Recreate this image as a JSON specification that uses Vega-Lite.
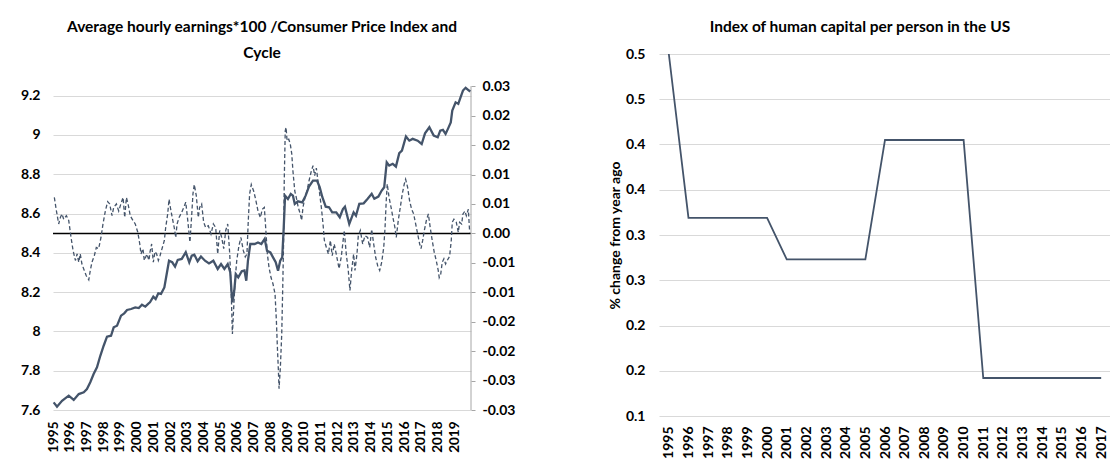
{
  "$schema": "https://vega.github.io/schema/vega-lite/v6.json",
  "background": "white",
  "padding": {"left": 20, "top": 19, "right": 0, "bottom": 0},
  "spacing": 93,
  "config": {
    "font": "Lato",
    "view": {"stroke": null},
    "axis": {
      "labelFont": "Lato", "labelFontWeight": "bold", "labelColor": "#000000", "labelFontSize": 14,
      "titleFont": "Lato", "titleFontWeight": "bold", "titleColor": "#000000", "titleFontSize": 14,
      "gridColor": "#d9d9d9", "gridWidth": 1, "labelOverlap": false
    },
    "axisX": {"labelOverlap": false, "labelBound": false},
    "title": {"font": "Lato", "fontWeight": "bold", "fontSize": 15.5, "color": "#000000", "anchor": "middle"}
  },
  "datasets": {
    "wage": [
      {"t": 1995.04, "v": 7.639}, {"t": 1995.24, "v": 7.617}, {"t": 1995.54, "v": 7.647}, {"t": 1995.94, "v": 7.673},
      {"t": 1996.24, "v": 7.651}, {"t": 1996.54, "v": 7.681}, {"t": 1996.84, "v": 7.690}, {"t": 1997.03, "v": 7.707},
      {"t": 1997.23, "v": 7.741}, {"t": 1997.43, "v": 7.783}, {"t": 1997.63, "v": 7.817}, {"t": 1997.83, "v": 7.876},
      {"t": 1998.03, "v": 7.927}, {"t": 1998.23, "v": 7.973}, {"t": 1998.47, "v": 7.978}, {"t": 1998.63, "v": 8.021},
      {"t": 1998.83, "v": 8.029}, {"t": 1999.07, "v": 8.080}, {"t": 1999.26, "v": 8.092}, {"t": 1999.43, "v": 8.109},
      {"t": 1999.67, "v": 8.114}, {"t": 1999.92, "v": 8.122}, {"t": 2000.13, "v": 8.119}, {"t": 2000.32, "v": 8.136},
      {"t": 2000.52, "v": 8.126}, {"t": 2000.72, "v": 8.143}, {"t": 2000.80, "v": 8.148}, {"t": 2001.00, "v": 8.177},
      {"t": 2001.14, "v": 8.165}, {"t": 2001.30, "v": 8.194}, {"t": 2001.46, "v": 8.191}, {"t": 2001.66, "v": 8.224},
      {"t": 2001.80, "v": 8.292}, {"t": 2001.94, "v": 8.360}, {"t": 2002.13, "v": 8.352}, {"t": 2002.30, "v": 8.330},
      {"t": 2002.46, "v": 8.364}, {"t": 2002.70, "v": 8.369}, {"t": 2002.94, "v": 8.403}, {"t": 2003.15, "v": 8.352},
      {"t": 2003.30, "v": 8.386}, {"t": 2003.45, "v": 8.391}, {"t": 2003.65, "v": 8.357}, {"t": 2003.85, "v": 8.381},
      {"t": 2004.09, "v": 8.360}, {"t": 2004.33, "v": 8.346}, {"t": 2004.59, "v": 8.360}, {"t": 2004.85, "v": 8.318},
      {"t": 2005.05, "v": 8.343}, {"t": 2005.25, "v": 8.318}, {"t": 2005.45, "v": 8.343}, {"t": 2005.60, "v": 8.301},
      {"t": 2005.72, "v": 8.148}, {"t": 2005.84, "v": 8.207}, {"t": 2005.93, "v": 8.292}, {"t": 2006.08, "v": 8.275},
      {"t": 2006.29, "v": 8.306}, {"t": 2006.45, "v": 8.310}, {"t": 2006.56, "v": 8.258}, {"t": 2006.66, "v": 8.360},
      {"t": 2006.80, "v": 8.445}, {"t": 2007.06, "v": 8.445}, {"t": 2007.26, "v": 8.453}, {"t": 2007.46, "v": 8.445},
      {"t": 2007.66, "v": 8.471}, {"t": 2007.80, "v": 8.411}, {"t": 2008.00, "v": 8.402}, {"t": 2008.16, "v": 8.377},
      {"t": 2008.32, "v": 8.352}, {"t": 2008.46, "v": 8.309}, {"t": 2008.59, "v": 8.360}, {"t": 2008.71, "v": 8.377},
      {"t": 2008.80, "v": 8.530}, {"t": 2008.88, "v": 8.691}, {"t": 2009.05, "v": 8.674}, {"t": 2009.22, "v": 8.700},
      {"t": 2009.35, "v": 8.691}, {"t": 2009.46, "v": 8.649}, {"t": 2009.65, "v": 8.662}, {"t": 2009.91, "v": 8.657},
      {"t": 2010.11, "v": 8.691}, {"t": 2010.31, "v": 8.737}, {"t": 2010.55, "v": 8.768}, {"t": 2010.79, "v": 8.768},
      {"t": 2010.95, "v": 8.734}, {"t": 2011.11, "v": 8.683}, {"t": 2011.31, "v": 8.635}, {"t": 2011.51, "v": 8.632},
      {"t": 2011.70, "v": 8.606}, {"t": 2011.94, "v": 8.606}, {"t": 2012.15, "v": 8.581}, {"t": 2012.34, "v": 8.623},
      {"t": 2012.46, "v": 8.635}, {"t": 2012.72, "v": 8.547}, {"t": 2012.98, "v": 8.606}, {"t": 2013.12, "v": 8.589},
      {"t": 2013.32, "v": 8.649}, {"t": 2013.58, "v": 8.652}, {"t": 2013.82, "v": 8.675}, {"t": 2014.06, "v": 8.700},
      {"t": 2014.22, "v": 8.675}, {"t": 2014.46, "v": 8.686}, {"t": 2014.66, "v": 8.717}, {"t": 2014.81, "v": 8.734},
      {"t": 2014.96, "v": 8.861}, {"t": 2015.11, "v": 8.844}, {"t": 2015.32, "v": 8.853}, {"t": 2015.51, "v": 8.839},
      {"t": 2015.71, "v": 8.907}, {"t": 2015.87, "v": 8.920}, {"t": 2016.11, "v": 8.992}, {"t": 2016.31, "v": 8.971},
      {"t": 2016.51, "v": 8.980}, {"t": 2016.81, "v": 8.971}, {"t": 2017.05, "v": 8.954}, {"t": 2017.25, "v": 9.008},
      {"t": 2017.51, "v": 9.039}, {"t": 2017.77, "v": 8.997}, {"t": 2018.01, "v": 8.988}, {"t": 2018.16, "v": 9.022},
      {"t": 2018.32, "v": 9.026}, {"t": 2018.48, "v": 9.005}, {"t": 2018.62, "v": 9.031}, {"t": 2018.79, "v": 9.064},
      {"t": 2018.88, "v": 9.124}, {"t": 2019.08, "v": 9.166}, {"t": 2019.24, "v": 9.158}, {"t": 2019.38, "v": 9.192},
      {"t": 2019.52, "v": 9.226}, {"t": 2019.68, "v": 9.240}, {"t": 2019.88, "v": 9.226}, {"t": 2019.96, "v": 9.221}
    ],
    "cycle": [
      {"t": 1995.08, "c": 0.0061}, {"t": 1995.20, "c": 0.0039}, {"t": 1995.34, "c": 0.0016}, {"t": 1995.44, "c": 0.0027},
      {"t": 1995.54, "c": 0.0033}, {"t": 1995.64, "c": 0.0024}, {"t": 1995.80, "c": 0.0030}, {"t": 1995.94, "c": 0.0022},
      {"t": 1996.08, "c": -0.0007}, {"t": 1996.20, "c": -0.0029}, {"t": 1996.34, "c": -0.0046}, {"t": 1996.44, "c": -0.0035},
      {"t": 1996.54, "c": -0.0049}, {"t": 1996.63, "c": -0.0035}, {"t": 1996.73, "c": -0.0052}, {"t": 1996.87, "c": -0.0063},
      {"t": 1996.99, "c": -0.0072}, {"t": 1997.14, "c": -0.0079}, {"t": 1997.23, "c": -0.0063}, {"t": 1997.33, "c": -0.0049},
      {"t": 1997.47, "c": -0.0038}, {"t": 1997.59, "c": -0.0024}, {"t": 1997.73, "c": -0.0026}, {"t": 1997.87, "c": -0.0007},
      {"t": 1997.99, "c": 0.0016}, {"t": 1998.13, "c": 0.0038}, {"t": 1998.27, "c": 0.0054}, {"t": 1998.39, "c": 0.0050},
      {"t": 1998.53, "c": 0.0030}, {"t": 1998.63, "c": 0.0044}, {"t": 1998.79, "c": 0.0050}, {"t": 1998.93, "c": 0.0038},
      {"t": 1999.07, "c": 0.0051}, {"t": 1999.19, "c": 0.0061}, {"t": 1999.29, "c": 0.0027}, {"t": 1999.39, "c": 0.0061},
      {"t": 1999.49, "c": 0.0050}, {"t": 1999.62, "c": 0.0030}, {"t": 1999.78, "c": 0.0022}, {"t": 1999.92, "c": 0.0016},
      {"t": 2000.07, "c": 0.0002}, {"t": 2000.19, "c": -0.0018}, {"t": 2000.26, "c": -0.0035}, {"t": 2000.38, "c": -0.0026},
      {"t": 2000.46, "c": -0.0046}, {"t": 2000.62, "c": -0.0035}, {"t": 2000.74, "c": -0.0046}, {"t": 2000.80, "c": -0.0032},
      {"t": 2000.90, "c": -0.0018}, {"t": 2001.00, "c": -0.0049}, {"t": 2001.10, "c": -0.0031}, {"t": 2001.20, "c": -0.0035},
      {"t": 2001.30, "c": -0.0046}, {"t": 2001.40, "c": -0.0038}, {"t": 2001.54, "c": -0.0024}, {"t": 2001.66, "c": -0.0012},
      {"t": 2001.74, "c": 0.0010}, {"t": 2001.86, "c": 0.0033}, {"t": 2001.94, "c": 0.0058}, {"t": 2002.02, "c": 0.0044},
      {"t": 2002.13, "c": 0.0027}, {"t": 2002.25, "c": 0.0010}, {"t": 2002.34, "c": -0.0007}, {"t": 2002.42, "c": 0.0016},
      {"t": 2002.54, "c": 0.0027}, {"t": 2002.70, "c": 0.0036}, {"t": 2002.82, "c": 0.0044}, {"t": 2002.94, "c": 0.0053},
      {"t": 2003.06, "c": 0.0022}, {"t": 2003.19, "c": -0.0015}, {"t": 2003.30, "c": 0.0033}, {"t": 2003.37, "c": 0.0067},
      {"t": 2003.45, "c": 0.0083}, {"t": 2003.57, "c": 0.0064}, {"t": 2003.69, "c": 0.0027}, {"t": 2003.77, "c": 0.0044},
      {"t": 2003.89, "c": 0.0050}, {"t": 2004.01, "c": 0.0019}, {"t": 2004.13, "c": 0.0010}, {"t": 2004.29, "c": 0.0013},
      {"t": 2004.45, "c": -0.0001}, {"t": 2004.59, "c": 0.0016}, {"t": 2004.73, "c": 0.0010}, {"t": 2004.85, "c": -0.0035},
      {"t": 2004.97, "c": 0.0005}, {"t": 2005.09, "c": -0.0007}, {"t": 2005.21, "c": -0.0026}, {"t": 2005.33, "c": 0.0005},
      {"t": 2005.45, "c": 0.0016}, {"t": 2005.57, "c": -0.0035}, {"t": 2005.65, "c": -0.0092}, {"t": 2005.73, "c": -0.0171},
      {"t": 2005.81, "c": -0.0125}, {"t": 2005.89, "c": -0.0080}, {"t": 2005.99, "c": -0.0046}, {"t": 2006.12, "c": -0.0021},
      {"t": 2006.24, "c": -0.0007}, {"t": 2006.38, "c": -0.0029}, {"t": 2006.50, "c": -0.0040}, {"t": 2006.60, "c": -0.0035},
      {"t": 2006.68, "c": 0.0022}, {"t": 2006.76, "c": 0.0067}, {"t": 2006.86, "c": 0.0083}, {"t": 2007.00, "c": 0.0072},
      {"t": 2007.12, "c": 0.0058}, {"t": 2007.26, "c": 0.0038}, {"t": 2007.40, "c": 0.0027}, {"t": 2007.52, "c": 0.0041},
      {"t": 2007.64, "c": 0.0044}, {"t": 2007.72, "c": 0.0010}, {"t": 2007.82, "c": -0.0035}, {"t": 2007.92, "c": -0.0058},
      {"t": 2008.04, "c": -0.0075}, {"t": 2008.16, "c": -0.0086}, {"t": 2008.28, "c": -0.0103}, {"t": 2008.36, "c": -0.0148},
      {"t": 2008.42, "c": -0.0193}, {"t": 2008.48, "c": -0.0233}, {"t": 2008.52, "c": -0.0264}, {"t": 2008.60, "c": -0.0227},
      {"t": 2008.68, "c": -0.0171}, {"t": 2008.74, "c": -0.0092}, {"t": 2008.80, "c": -0.0001}, {"t": 2008.83, "c": 0.0089},
      {"t": 2008.89, "c": 0.0174}, {"t": 2008.94, "c": 0.0180}, {"t": 2009.00, "c": 0.0157}, {"t": 2009.10, "c": 0.0160},
      {"t": 2009.19, "c": 0.0152}, {"t": 2009.28, "c": 0.0135}, {"t": 2009.35, "c": 0.0106}, {"t": 2009.46, "c": 0.0072},
      {"t": 2009.55, "c": 0.0061}, {"t": 2009.67, "c": 0.0044}, {"t": 2009.79, "c": 0.0033}, {"t": 2009.87, "c": 0.0022},
      {"t": 2009.95, "c": 0.0044}, {"t": 2010.07, "c": 0.0061}, {"t": 2010.19, "c": 0.0072}, {"t": 2010.31, "c": 0.0089},
      {"t": 2010.45, "c": 0.0106}, {"t": 2010.55, "c": 0.0115}, {"t": 2010.65, "c": 0.0098}, {"t": 2010.75, "c": 0.0111},
      {"t": 2010.85, "c": 0.0089}, {"t": 2010.95, "c": 0.0067}, {"t": 2011.05, "c": 0.0044}, {"t": 2011.15, "c": 0.0016},
      {"t": 2011.23, "c": -0.0012}, {"t": 2011.35, "c": -0.0024}, {"t": 2011.47, "c": -0.0035}, {"t": 2011.59, "c": -0.0012},
      {"t": 2011.70, "c": -0.0038}, {"t": 2011.82, "c": -0.0018}, {"t": 2011.94, "c": -0.0035}, {"t": 2012.11, "c": -0.0060},
      {"t": 2012.24, "c": -0.0040}, {"t": 2012.42, "c": 0.0005}, {"t": 2012.54, "c": -0.0035}, {"t": 2012.66, "c": -0.0063},
      {"t": 2012.76, "c": -0.0097}, {"t": 2012.86, "c": -0.0063}, {"t": 2012.98, "c": -0.0035}, {"t": 2013.06, "c": -0.0063},
      {"t": 2013.18, "c": -0.0035}, {"t": 2013.26, "c": -0.0004}, {"t": 2013.38, "c": 0.0005}, {"t": 2013.52, "c": -0.0018},
      {"t": 2013.66, "c": -0.0004}, {"t": 2013.82, "c": -0.0007}, {"t": 2013.94, "c": -0.0024}, {"t": 2014.06, "c": 0.0007},
      {"t": 2014.18, "c": -0.0018}, {"t": 2014.30, "c": -0.0041}, {"t": 2014.42, "c": -0.0055}, {"t": 2014.54, "c": -0.0063},
      {"t": 2014.66, "c": -0.0049}, {"t": 2014.78, "c": -0.0024}, {"t": 2014.86, "c": 0.0010}, {"t": 2014.93, "c": 0.0055},
      {"t": 2014.99, "c": 0.0084}, {"t": 2015.10, "c": 0.0061}, {"t": 2015.22, "c": 0.0044}, {"t": 2015.33, "c": 0.0027},
      {"t": 2015.45, "c": 0.0010}, {"t": 2015.53, "c": -0.0007}, {"t": 2015.65, "c": 0.0022}, {"t": 2015.77, "c": 0.0044},
      {"t": 2015.89, "c": 0.0067}, {"t": 2016.01, "c": 0.0084}, {"t": 2016.09, "c": 0.0092}, {"t": 2016.21, "c": 0.0078},
      {"t": 2016.33, "c": 0.0055}, {"t": 2016.45, "c": 0.0041}, {"t": 2016.57, "c": 0.0033}, {"t": 2016.69, "c": 0.0016},
      {"t": 2016.81, "c": -0.0001}, {"t": 2016.93, "c": -0.0018}, {"t": 2017.01, "c": -0.0026}, {"t": 2017.11, "c": -0.0012},
      {"t": 2017.21, "c": 0.0005}, {"t": 2017.33, "c": 0.0022}, {"t": 2017.45, "c": 0.0033}, {"t": 2017.56, "c": 0.0010},
      {"t": 2017.68, "c": -0.0012}, {"t": 2017.80, "c": -0.0032}, {"t": 2017.92, "c": -0.0046}, {"t": 2018.04, "c": -0.0063},
      {"t": 2018.10, "c": -0.0075}, {"t": 2018.19, "c": -0.0069}, {"t": 2018.28, "c": -0.0049}, {"t": 2018.38, "c": -0.0043},
      {"t": 2018.48, "c": -0.0052}, {"t": 2018.58, "c": -0.0046}, {"t": 2018.72, "c": -0.0039}, {"t": 2018.82, "c": -0.0012},
      {"t": 2018.88, "c": 0.0019}, {"t": 2018.98, "c": 0.0024}, {"t": 2019.12, "c": 0.0019}, {"t": 2019.24, "c": 0.0002},
      {"t": 2019.32, "c": 0.0019}, {"t": 2019.44, "c": 0.0016}, {"t": 2019.52, "c": 0.0033}, {"t": 2019.64, "c": 0.0038},
      {"t": 2019.72, "c": 0.0030}, {"t": 2019.84, "c": 0.0041}, {"t": 2019.92, "c": 0.0002}
    ],
    "human": [
      {"year": 1995, "pct": 0.5}, {"year": 1996, "pct": 0.319}, {"year": 1997, "pct": 0.319}, {"year": 1998, "pct": 0.319},
      {"year": 1999, "pct": 0.319}, {"year": 2000, "pct": 0.319}, {"year": 2001, "pct": 0.273}, {"year": 2002, "pct": 0.273},
      {"year": 2003, "pct": 0.273}, {"year": 2004, "pct": 0.273}, {"year": 2005, "pct": 0.273}, {"year": 2006, "pct": 0.405},
      {"year": 2007, "pct": 0.405}, {"year": 2008, "pct": 0.405}, {"year": 2009, "pct": 0.405}, {"year": 2010, "pct": 0.405},
      {"year": 2011, "pct": 0.142}, {"year": 2012, "pct": 0.142}, {"year": 2013, "pct": 0.142}, {"year": 2014, "pct": 0.142},
      {"year": 2015, "pct": 0.142}, {"year": 2016, "pct": 0.142}, {"year": 2017, "pct": 0.142}
    ],
    "rightAxisLine": [{"t": 2020, "lo": -0.03, "hi": 0.025}]
  },
  "hconcat": [
    {
      "width": 418,
      "height": 356,
      "title": {"text": ["Average hourly earnings*100 /Consumer Price Index and", "Cycle"], "lineHeight": 26, "offset": -7, "frame": "group"},
      "layer": [
        {
          "data": {"values": [{"z": 0}]},
          "mark": {"type": "rule", "color": "#000000", "strokeWidth": 1.5},
          "encoding": {
            "y": {"field": "z", "type": "quantitative", "scale": {"domain": [-0.03, 0.03047], "nice": false, "zero": false}, "axis": null}
          }
        },
        {
          "data": {"name": "rightAxisLine"},
          "mark": {"type": "rule", "color": "#a6a6a6", "strokeWidth": 1},
          "encoding": {
            "x": {"field": "t", "type": "quantitative", "scale": {"domain": [1995, 2020], "nice": false, "zero": false},
              "axis": {"values": [1995, 1996, 1997, 1998, 1999, 2000, 2001, 2002, 2003, 2004, 2005, 2006, 2007, 2008, 2009, 2010, 2011, 2012, 2013, 2014, 2015, 2016, 2017, 2018, 2019],
                "format": "d", "labelAngle": 270, "labelFontSize": 13.5, "labelPadding": 11, "grid": false, "domain": false, "ticks": false, "title": null, "labelOverlap": false}},
            "y": {"field": "lo", "type": "quantitative", "scale": {"domain": [-0.03, 0.03047], "nice": false, "zero": false}, "axis": null},
            "y2": {"field": "hi"}
          }
        },
        {
          "data": {"name": "cycle"},
          "mark": {"type": "line", "color": "#44546A", "strokeWidth": 1.3, "strokeDash": [4, 2.5]},
          "encoding": {
            "x": {"field": "t", "type": "quantitative", "scale": {"domain": [1995, 2020], "nice": false, "zero": false},
              "axis": {"values": [1995, 1996, 1997, 1998, 1999, 2000, 2001, 2002, 2003, 2004, 2005, 2006, 2007, 2008, 2009, 2010, 2011, 2012, 2013, 2014, 2015, 2016, 2017, 2018, 2019],
                "format": "d", "labelAngle": 270, "labelFontSize": 13.5, "labelPadding": 11, "grid": false, "domain": false, "ticks": false, "title": null, "labelOverlap": false}},
            "y": {"field": "c", "type": "quantitative", "scale": {"domain": [-0.03, 0.03047], "nice": false, "zero": false},
              "axis": {"orient": "right", "title": null, "grid": false, "values": [-0.03, -0.025, -0.02, -0.015, -0.01, -0.005, 0, 0.005, 0.01, 0.015, 0.02, 0.025],
                "labelExpr": "datum.value < -1e-9 ? '-' + format(round(abs(datum.value) * 100 + 1e-6) / 100, '.2f') : format(round(datum.value * 100 + 1e-6) / 100, '.2f')",
                "domain": false, "ticks": true, "tickColor": "#a6a6a6", "tickSize": 4, "labelPadding": 7, "labelOverlap": false}}
          }
        },
        {
          "data": {"name": "wage"},
          "mark": {"type": "line", "color": "#44546A", "strokeWidth": 2.3},
          "encoding": {
            "x": {"field": "t", "type": "quantitative", "scale": {"domain": [1995, 2020], "nice": false, "zero": false},
              "axis": {"values": [1995, 1996, 1997, 1998, 1999, 2000, 2001, 2002, 2003, 2004, 2005, 2006, 2007, 2008, 2009, 2010, 2011, 2012, 2013, 2014, 2015, 2016, 2017, 2018, 2019],
                "format": "d", "labelAngle": 270, "labelFontSize": 13.5, "labelPadding": 11, "grid": false, "domain": false, "ticks": false, "title": null, "labelOverlap": false}},
            "y": {"field": "v", "type": "quantitative", "scale": {"domain": [7.6, 9.412], "nice": false, "zero": false},
              "axis": {"orient": "left", "title": null, "values": [7.6, 7.8, 8, 8.2, 8.4, 8.6, 8.8, 9, 9.2], "format": "~g",
                "grid": true, "domain": false, "ticks": false, "labelPadding": 13, "labelOverlap": false}}
          }
        }
      ],
      "resolve": {"scale": {"y": "independent"}, "axis": {"y": "independent"}}
    },
    {
      "width": 452,
      "height": 362,
      "title": {"text": "Index of human capital per person in the US", "offset": 12, "dx": -25, "frame": "group"},
      "data": {"name": "human"},
      "mark": {"type": "line", "color": "#44546A", "strokeWidth": 1.8},
      "encoding": {
        "x": {"field": "year", "type": "quantitative", "scale": {"domain": [1994.5, 2017.5], "nice": false, "zero": false},
          "axis": {"values": [1995, 1996, 1997, 1998, 1999, 2000, 2001, 2002, 2003, 2004, 2005, 2006, 2007, 2008, 2009, 2010, 2011, 2012, 2013, 2014, 2015, 2016, 2017],
            "format": "d", "labelAngle": 270, "labelFontSize": 14, "labelPadding": 10, "grid": false, "domain": false, "ticks": false, "title": null, "labelOverlap": false}},
        "y": {"field": "pct", "type": "quantitative", "scale": {"domain": [0.1, 0.5], "nice": false, "zero": false},
          "axis": {"title": "% change from year ago", "titlePadding": 3, "values": [0.1, 0.15, 0.2, 0.25, 0.3, 0.35, 0.4, 0.45, 0.5],
            "labelExpr": "format(round(datum.value * 10 + 1e-6) / 10, '.1f')",
            "grid": true, "domain": false, "ticks": false, "labelPadding": 14, "labelOverlap": false}}
      }
    }
  ]
}
